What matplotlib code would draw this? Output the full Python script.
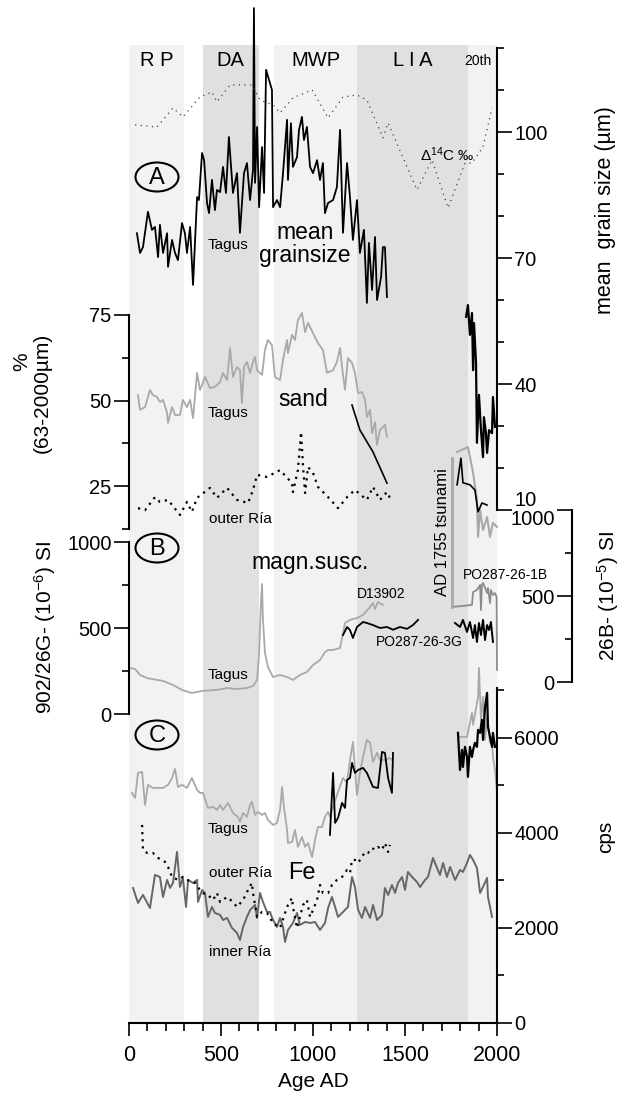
import matplotlib
matplotlib.use('Agg')
import matplotlib.pyplot as plt
from matplotlib.patches import Ellipse
from matplotlib.ticker import MultipleLocator

plt.rcParams['font.family'] = ['Liberation Sans', 'DejaVu Sans']
plt.rcParams['mathtext.default'] = 'regular'

# --- periods (AD) ---
period_names = ['R P', 'DA', 'MWP', 'L I A', '20th']
period_start = [0, 400, 790, 1240, 1840]
period_end = [300, 705, 1240, 1840, 2000]
period_colors = ['#f2f2f2', '#e0e0e0', '#f2f2f2', '#e0e0e0', '#f2f2f2']

# --- A: mean grain size Tagus (um) ---
gs_year = [43, 60, 76, 103, 125, 141, 158, 168, 185, 207, 212, 234, 250, 266, 288, 304, 315, 332, 348, 370,
           380, 397, 408, 424, 435, 451, 467, 478, 495, 511, 527, 543, 565, 587, 603, 625, 641, 658, 674, 679,
           685, 696, 707, 723, 734, 745, 761, 777, 783, 804, 821, 837, 859, 864, 880, 891, 913, 924, 940, 951,
           967, 984, 1000, 1022, 1038, 1054, 1065, 1082, 1109, 1130, 1147, 1163, 1185, 1201, 1217, 1239, 1255,
           1277, 1293, 1304, 1321, 1337, 1348, 1370, 1380, 1391, 1402]
gs_val = [75.9, 71.2, 72.6, 81.0, 76.7, 77.4, 70.2, 77.9, 71.2, 75.9, 67.9, 74.3, 71.2, 69.5, 78.3, 75.9, 71.2,
          77.4, 63.6, 84.5, 83.8, 95.0, 93.3, 83.1, 80.7, 88.6, 81.4, 86.2, 85.7, 91.7, 85.5, 98.8, 85.5, 90.2,
          76.0, 90.2, 92.6, 83.8, 91.0, 129.5, 87.9, 101.2, 82.1, 96.4, 85.5, 114.8, 112.4, 110.0, 82.1, 83.8,
          82.1, 90.2, 102.9, 88.6, 102.1, 91.7, 94.0, 100.5, 103.6, 98.1, 101.2, 91.7, 90.2, 93.3, 88.6, 92.6,
          80.7, 83.1, 83.8, 86.9, 100.5, 76.0, 92.6, 84.5, 74.3, 83.8, 71.2, 76.7, 59.3, 73.6, 62.4, 75.0, 60.0,
          65.5, 72.6, 72.6, 60.7]
gs20_year = [1832, 1842, 1853, 1864, 1870, 1875, 1886, 1891, 1902, 1913, 1924, 1929, 1940, 1946, 1957, 1973,
             1978, 1989]
gs20_val = [56.0, 58.8, 51.7, 56.9, 43.3, 54.5, 45.0, 26.0, 37.4, 29.0, 22.6, 32.1, 28.3, 23.6, 29.0, 28.3,
            36.9, 29.8]

# delta 14C (permil)
c14_year = [33, 152, 239, 293, 386, 451, 478, 549, 668, 712, 783, 821, 891, 995, 1082, 1163, 1239, 1293, 1380,
            1408, 1565, 1647, 1734, 1826, 1864, 1924, 1973]
c14_val = [7.0, 6.3, 12.5, 9.6, 16.1, 17.7, 14.5, 20.0, 20.0, 15.1, 13.5, 10.9, 15.8, 18.4, 9.3, 16.1, 16.7,
           15.1, 2.8, 7.6, -14.1, -4.4, -20.0, -5.4, -5.4, -0.2, 12.5]

# --- sand % (63-2000 um) ---
sand_year = [49, 60, 87, 114, 130, 152, 168, 185, 207, 212, 234, 250, 277, 293, 315, 332, 348, 370, 386, 413,
             440, 467, 495, 511, 533, 549, 565, 587, 603, 614, 625, 641, 658, 674, 685, 696, 723, 739, 755, 777,
             793, 821, 837, 859, 864, 886, 902, 918, 940, 957, 973, 1000, 1027, 1054, 1076, 1109, 1130, 1147,
             1158, 1174, 1190, 1212, 1228, 1245, 1266, 1283, 1293, 1310, 1321, 1337, 1348, 1364, 1391, 1402]
sand_val = [51.6, 47.3, 48.1, 53.1, 51.6, 51.1, 49.6, 50.2, 46.4, 43.5, 48.1, 45.8, 45.8, 50.2, 48.1, 50.2,
            44.9, 58.1, 53.1, 56.9, 53.7, 54.0, 55.4, 58.1, 56.0, 65.4, 56.9, 59.8, 58.9, 49.3, 59.8, 61.3, 58.1,
            61.3, 62.7, 58.9, 57.5, 64.8, 67.7, 66.2, 56.9, 56.0, 61.9, 67.7, 63.9, 69.2, 67.7, 73.5, 75.6, 70.0,
            72.7, 69.7, 66.8, 64.8, 58.1, 58.9, 61.3, 65.4, 59.8, 53.1, 62.4, 61.0, 58.1, 52.2, 52.5, 50.2, 45.2,
            47.3, 40.5, 43.7, 37.0, 41.4, 42.9, 39.4]
sand_core_year = [1212, 1255, 1326, 1402]
sand_core_val = [48.7, 41.4, 35.0, 25.9]
sand_outer_year = [49, 87, 141, 168, 212, 277, 315, 342, 370, 440, 478, 533, 587, 647, 674, 696, 750, 821, 886,
                   891, 918, 935, 946, 957, 973, 1000, 1027, 1082, 1136, 1185, 1228, 1293, 1326, 1364, 1402, 1429]
sand_outer_val = [18.6, 18.0, 21.8, 20.4, 21.0, 16.6, 20.4, 17.5, 21.6, 24.5, 21.6, 24.5, 21.0, 20.1, 23.9,
                  28.3, 27.7, 29.7, 25.9, 23.3, 29.7, 40.8, 30.6, 23.0, 30.6, 28.9, 24.8, 21.8, 18.6, 21.8, 23.9,
                  21.0, 24.8, 21.0, 23.3, 20.4]
sand20_grey_year = [1783, 1842, 1853, 1870, 1891, 1897, 1908, 1924, 1946, 1962, 1978, 2000]
sand20_grey_val = [35.0, 36.4, 33.5, 28.9, 21.0, 10.2, 18.0, 12.2, 16.0, 10.2, 14.3, 13.1]
sand20_black_year = [1783, 1804, 1815, 1853, 1880, 1897, 1918, 1946]
sand20_black_val = [25.4, 33.2, 26.0, 25.4, 23.9, 17.5, 20.1, 19.5]

# --- B: magnetic susceptibility ---
ms_year = [5, 33, 60, 98, 185, 239, 288, 342, 397, 478, 533, 587, 641, 674, 696, 707, 717, 723, 728, 739, 755,
           783, 821, 859, 891, 929, 967, 1000, 1038, 1065, 1082, 1109, 1147, 1158, 1174, 1201, 1239, 1272, 1310,
           1326, 1337, 1353, 1380]
ms_val = [267, 262, 227, 209, 192, 169, 140, 122, 134, 140, 151, 145, 151, 163, 198, 355, 645, 756, 547, 355,
          273, 215, 227, 215, 198, 227, 244, 285, 314, 360, 372, 372, 384, 442, 529, 547, 558, 576, 622, 645, 610,
          651, 634]
ms3g_year = [1163, 1185, 1201, 1217, 1239, 1272, 1293, 1326, 1364, 1402, 1435, 1473, 1511, 1543, 1571]
ms3g_val = [459, 506, 488, 442, 506, 535, 529, 517, 500, 506, 490, 506, 495, 517, 547]
ms3g20_year = [1772, 1799, 1815, 1837, 1853, 1870, 1880, 1891, 1902, 1913, 1924, 1935, 1946, 1957, 1967, 1978]
ms3g20_val = [529, 506, 547, 477, 535, 442, 517, 419, 529, 459, 547, 430, 517, 488, 535, 419]
ms1b_year = [1755, 1864, 1870, 1891, 1908, 1913, 1918, 1924, 1935, 1946, 1951, 1962, 1967, 1978, 1989, 1998,
             2000]
ms1b_val = [436, 448, 523, 535, 564, 419, 564, 576, 547, 517, 547, 459, 535, 506, 517, 494, 70]
tsunami_year = 1755
tsunami_range = [436, 1300]

# --- C: Fe (cps) ---
fe_year = [16, 33, 49, 71, 87, 103, 130, 185, 212, 234, 250, 266, 288, 315, 342, 370, 386, 402, 429, 457, 478,
           495, 511, 538, 565, 592, 603, 620, 641, 658, 668, 685, 701, 723, 739, 755, 783, 804, 821, 832, 842,
           859, 864, 886, 902, 918, 940, 957, 973, 995, 1011, 1027, 1049, 1065, 1082, 1092, 1109, 1136, 1163,
           1185, 1201, 1217, 1239, 1255, 1272, 1293, 1310, 1326, 1348, 1364, 1391, 1418, 1429]
fe_val = [4842, 4737, 5263, 5284, 4589, 5011, 4947, 4947, 5011, 5158, 5347, 4968, 5011, 4947, 5158, 4905, 4842,
          4842, 4526, 4547, 4484, 4589, 4484, 4632, 4421, 4337, 4232, 4421, 4337, 4589, 4653, 4379, 4442, 4379,
          4421, 4274, 4168, 4211, 4484, 4968, 4547, 4063, 3789, 3811, 4063, 3705, 3916, 3705, 3789, 3495, 3853,
          4126, 4126, 4337, 4442, 4337, 4547, 4863, 5158, 5053, 5537, 5916, 4800, 5263, 5600, 5958, 5895, 5495,
          5684, 5537, 5537, 5579, 5537]
fe_core_year = [1092, 1109, 1120, 1136, 1158, 1174, 1185, 1201, 1212, 1228, 1245, 1272, 1293, 1326, 1353, 1375,
                1391, 1408, 1429, 1435]
fe_core_val = [3958, 5263, 4211, 4316, 4632, 4526, 5116, 5158, 5474, 5263, 5326, 5368, 5263, 4968, 4947, 5705,
               5684, 5158, 4842, 5684]
fe_outer_year = [71, 76, 98, 130, 158, 196, 212, 234, 266, 293, 315, 359, 397, 429, 457, 478, 495, 533, 565,
                 587, 620, 647, 668, 674, 685, 696, 723, 750, 783, 821, 848, 864, 886, 891, 913, 929, 946, 967,
                 984, 1000, 1022, 1038, 1054, 1082, 1103, 1130, 1158, 1185, 1201, 1212, 1228, 1245, 1266, 1283,
                 1299, 1321, 1337, 1353, 1375, 1391, 1408, 1418]
fe_outer_val = [4168, 3642, 3579, 3579, 3474, 3389, 3284, 3074, 3011, 3074, 3011, 2947, 2737, 2695, 2589, 2737,
                2547, 2653, 2547, 2442, 2589, 2800, 2947, 2737, 2484, 2232, 2337, 2316, 2105, 2000, 2316, 2484,
                2632, 2442, 2000, 2232, 2484, 2589, 2232, 2379, 2589, 2905, 2737, 2737, 2905, 3011, 3074, 3221,
                3158, 3432, 3432, 3368, 3495, 3600, 3579, 3684, 3642, 3705, 3642, 3789, 3600, 3747]
fe_inner_year = [22, 49, 76, 114, 141, 168, 185, 207, 223, 239, 261, 277, 293, 310, 321, 348, 370, 375, 397,
                 413, 429, 451, 467, 495, 511, 533, 560, 587, 603, 620, 641, 658, 685, 696, 712, 728, 750, 766,
                 783, 804, 821, 837, 848, 864, 891, 913, 929, 957, 984, 1011, 1038, 1065, 1082, 1103, 1120, 1136,
                 1163, 1190, 1212, 1228, 1245, 1266, 1283, 1310, 1326, 1348, 1375, 1391, 1408, 1429, 1446, 1462,
                 1484, 1500, 1516, 1538, 1565, 1582, 1609, 1625, 1652, 1674, 1690, 1707, 1728, 1745, 1772, 1799,
                 1815, 1837, 1853, 1870, 1891, 1908, 1924, 1946, 1951, 1973]
fe_inner_val = [2842, 2526, 2695, 2421, 3116, 3074, 2653, 3011, 2842, 2947, 3600, 2863, 3053, 2442, 3011, 2947,
                3011, 2547, 2800, 2737, 2232, 2442, 2316, 2274, 2168, 2211, 2000, 1895, 1747, 2021, 2232, 2379,
                2484, 2211, 2737, 2547, 2337, 2337, 2168, 2021, 2211, 2021, 1705, 1958, 2105, 2316, 2063, 2126,
                2105, 2126, 1958, 2105, 2421, 2653, 2442, 2232, 2337, 2442, 3074, 2863, 2379, 2211, 2442, 2211,
                2484, 2168, 2274, 2842, 2695, 2905, 2737, 2947, 3074, 2800, 3179, 3074, 2968, 2863, 3011, 3074,
                3474, 3263, 3116, 3368, 3074, 3284, 3011, 3221, 3179, 3368, 3537, 3432, 3263, 2737, 2863, 3053,
                2653, 2232]
fe20_black_year = [1788, 1799, 1810, 1815, 1826, 1837, 1842, 1853, 1864, 1870, 1880, 1891, 1897, 1908, 1918,
                   1924, 1935, 1946, 1951, 1962, 1973, 1978, 1989]
fe20_black_val = [6105, 5326, 5747, 5389, 5811, 5600, 5179, 5811, 5600, 5747, 5895, 5811, 6168, 6105, 6379,
                  5958, 6653, 6947, 6232, 6021, 5811, 6105, 5811]
fe20_grey_year = [1799, 1837, 1864, 1870, 1891, 1897, 1902, 1913, 1924, 1935, 1946, 1951, 1962, 1973, 1978,
                  1989, 2000, 2000]
fe20_grey_val = [6021, 6021, 6526, 6274, 6737, 6863, 7474, 6379, 6863, 5958, 6442, 6316, 5895, 6021, 5600,
                 5326, 4842, 700]

W, H = 627, 1097
LIGHT = '#a9a9a9'
DARK = '#666666'
TICK_FS = 14.5

fig = plt.figure(figsize=(W / 100, H / 100), dpi=100)


def overlay(y_top, y_bot, ylim, side=None, x0=129, x1=497):
    ax = fig.add_axes([x0 / W, 1 - y_bot / H, (x1 - x0) / W, (y_bot - y_top) / H])
    ax.set_xlim(0, 2000)
    ax.set_ylim(*ylim)
    ax.patch.set_visible(False)
    for s in ax.spines.values():
        s.set_visible(False)
    ax.set_xticks([])
    if side is None:
        ax.set_yticks([])
    else:
        ax.spines[side].set_visible(True)
        ax.spines[side].set_linewidth(1.5)
        ax.yaxis.set_ticks_position(side)
        ax.tick_params(axis='y', which='major', length=10.5, width=1.2, labelsize=TICK_FS, pad=2)
        ax.tick_params(axis='y', which='minor', length=5, width=1.2)
    return ax


def ftext(x, y, s, **kw):
    kw.setdefault('ha', 'center')
    kw.setdefault('va', 'center')
    return fig.text(x / W, 1 - y / H, s, **kw)


# background with periods and time axis
ax_bg = fig.add_axes([129 / W, 1 - 1023 / H, 368 / W, 978 / H])
ax_bg.set_xlim(0, 2000)
ax_bg.set_ylim(0, 1)
for a, b, c in zip(period_start, period_end, period_colors):
    ax_bg.axvspan(a, b, color=c, lw=0)
for side in ['left', 'right', 'top']:
    ax_bg.spines[side].set_visible(False)
ax_bg.spines['bottom'].set_linewidth(1.5)
ax_bg.set_yticks([])
ax_bg.xaxis.set_major_locator(MultipleLocator(500))
ax_bg.xaxis.set_minor_locator(MultipleLocator(100))
ax_bg.tick_params(axis='x', which='major', length=9.5, width=1.2, labelsize=15.5, pad=6)
ax_bg.tick_params(axis='x', which='minor', length=5.5, width=1.2)
ax_bg.set_xlabel('Age AD', fontsize=15, labelpad=5)

# A: grain size
ax_gs = overlay(48, 510, (10, 120), 'right')
ax_gs.set_yticks([10, 40, 70, 100])
ax_gs.yaxis.set_minor_locator(MultipleLocator(10))
ax_gs.yaxis.get_major_ticks()[0].label2.set_va('bottom')
ax_gs.plot(gs_year, gs_val, color='black', lw=1.3, clip_on=False)
ax_gs.plot(gs20_year, gs20_val, color='black', lw=1.6, clip_on=False)

ax_c14 = overlay(48, 510, (-118.2, 32.0))
ax_c14.plot(c14_year, c14_val, color='#444444', lw=0.9, ls=(0, (1, 3.5)), clip_on=False)

# sand
ax_sand = overlay(315, 529, (12.5, 75), 'left')
ax_sand.set_yticks([25, 50, 75])
ax_sand.set_yticks([12.5, 37.5, 62.5], minor=True)
ax_sand.plot(sand_year, sand_val, color=LIGHT, lw=1.3, clip_on=False)
ax_sand.plot(sand_core_year, sand_core_val, color='black', lw=1.2, clip_on=False)
ax_sand.plot(sand_outer_year, sand_outer_val, color='black', lw=1.6, ls=(0, (1, 2.2)), clip_on=False)
ax_sand.plot(sand20_grey_year, sand20_grey_val, color=LIGHT, lw=1.5, clip_on=False)
ax_sand.plot(sand20_black_year, sand20_black_val, color='black', lw=1.2, clip_on=False)

# B: magnetic susceptibility
ax_ms = overlay(542, 714, (0, 1000), 'left')
ax_ms.set_yticks([0, 500, 1000])
ax_ms.set_yticks([250, 750], minor=True)
ax_ms.plot(ms_year, ms_val, color=LIGHT, lw=1.3, clip_on=False)
ax_ms.plot(ms3g_year, ms3g_val, color='black', lw=1.3, clip_on=False)
ax_ms.plot(ms3g20_year, ms3g20_val, color='black', lw=1.4, clip_on=False)

ax_ms2 = overlay(510, 682, (0, 1000))
ax_ms2.plot(ms1b_year, ms1b_val, color='#8c8c8c', lw=1.3, clip_on=False)
ax_ms2.plot([tsunami_year, tsunami_year], tsunami_range, color=LIGHT, lw=2, clip_on=False)

ax_26b = overlay(510, 682, (0, 1000), 'left', x0=572, x1=600)
ax_26b.set_yticks([0, 500, 1000])
ax_26b.set_yticks([250, 750], minor=True)
ax_26b.yaxis.get_major_ticks()[2].label1.set_va('top')

# C: Fe
ax_fe = overlay(688, 1023, (0, 7050), 'right')
ax_fe.set_yticks([0, 2000, 4000, 6000])
ax_fe.yaxis.set_minor_locator(MultipleLocator(1000))
ax_fe.plot(fe_year, fe_val, color=LIGHT, lw=1.3, clip_on=False)
ax_fe.plot(fe_core_year, fe_core_val, color='black', lw=1.3, clip_on=False)
ax_fe.plot(fe_inner_year, fe_inner_val, color=DARK, lw=1.4, clip_on=False)
ax_fe.plot(fe_outer_year, fe_outer_val, color='black', lw=1.6, ls=(0, (1, 2.2)), clip_on=False)
ax_fe.plot(fe20_grey_year, fe20_grey_val, color=LIGHT, lw=1.3, clip_on=False)
ax_fe.plot(fe20_black_year, fe20_black_val, color='black', lw=1.6, clip_on=False)

# period names
for name, a, b in zip(period_names, period_start, period_end):
    xc = 129 + (a + b) / 2 * 0.184
    if name == '20th':
        ftext(xc - 4, 61, name, fontsize=10)
    else:
        ftext(xc, 61, name, fontsize=14.5)

# panel letters
for letter, yc in [('A', 177), ('B', 548), ('C', 735)]:
    fig.add_artist(Ellipse((157 / W, 1 - yc / H), 43 / W, 29 / H, transform=fig.transFigure,
                           fill=False, lw=1.5, ec='black'))
    ftext(157, yc + 1, letter, fontsize=17)

# labels inside the plot
ftext(228, 245, 'Tagus', fontsize=11)
ftext(305, 244, 'mean\ngrainsize', fontsize=16.5, linespacing=0.95)
ftext(447, 155, '$\\Delta^{14}$C \u2030', fontsize=11)
ftext(228, 413, 'Tagus', fontsize=11)
ftext(303, 400, 'sand', fontsize=16.5)
ftext(240, 519, 'outer R\u00eda', fontsize=11)
ftext(442, 532, 'AD 1755 tsunami', fontsize=12, rotation=90)
ftext(310, 563, 'magn.susc.', fontsize=16.5)
ftext(381, 594, 'D13902', fontsize=10)
ftext(419, 642, 'PO287-26-3G', fontsize=10)
ftext(505, 575, 'PO287-26-1B', fontsize=10)
ftext(228, 675, 'Tagus', fontsize=11)
ftext(228, 829, 'Tagus', fontsize=11)
ftext(240, 873, 'outer R\u00eda', fontsize=11)
ftext(302, 873, 'Fe', fontsize=17)
ftext(240, 952, 'inner R\u00eda', fontsize=11)

# axis titles
ftext(606, 210, 'mean  grain size (\u00b5m)', fontsize=15.5, rotation=90)
ftext(608, 596, '26B- (10$^{-5}$) SI', fontsize=15, rotation=90)
ftext(606, 837, 'cps', fontsize=15, rotation=90)
ftext(22, 362, '%', fontsize=15, rotation=90)
ftext(42, 393, '(63-2000\u00b5m)', fontsize=15, rotation=90)
ftext(45, 628, '902/26G- (10$^{-6}$) SI', fontsize=15, rotation=90)

fig.savefig('out.png', dpi=100)
